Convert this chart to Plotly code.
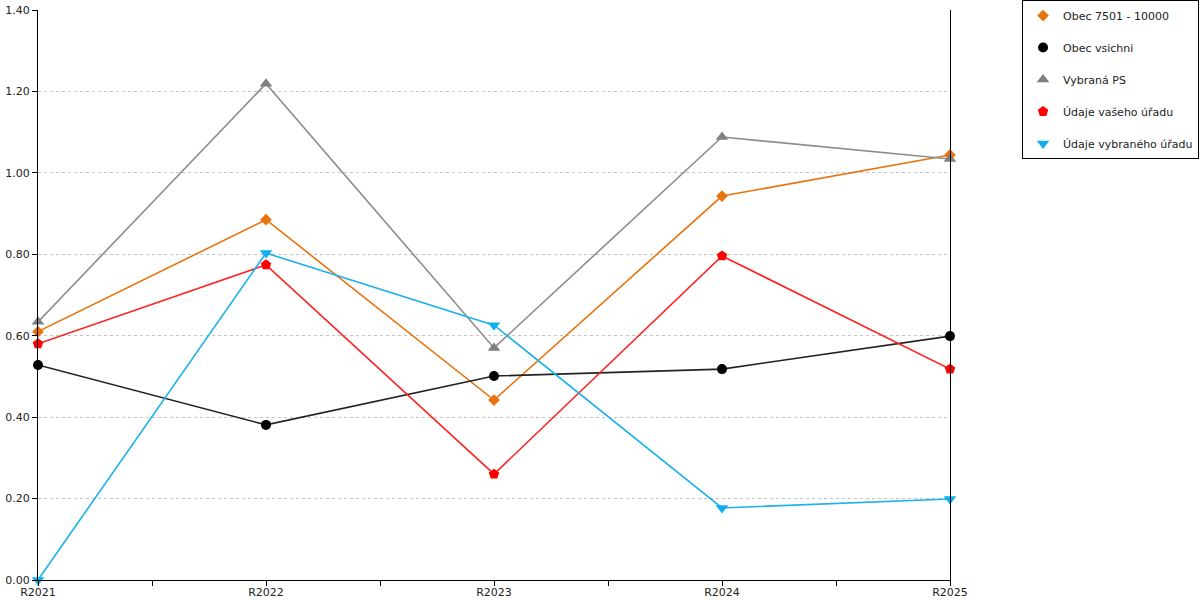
import plotly.graph_objects as go

# roky
categories = ["R2021", "R2022", "R2023", "R2024", "R2025"]

obec_7501_10000 = [0.61, 0.885, 0.442, 0.943, 1.044]
obec_vsichni = [0.528, 0.381, 0.501, 0.518, 0.599]
vybrana_ps = [0.634, 1.219, 0.570, 1.088, 1.034]
udaje_vaseho = [0.580, 0.774, 0.260, 0.796, 0.518]
udaje_vybraneho = [0.0, 0.803, 0.626, 0.177, 0.199]

series = [
    ("Obec 7501 - 10000", obec_7501_10000, "#E8720C", "#E8720C", "diamond", 9),
    ("Obec vsichni", obec_vsichni, "#222222", "#000000", "circle", 10),
    ("Vybraná PS", vybrana_ps, "#8C8C8C", "#808080", "triangle-up", 11),
    ("Údaje vašeho úřadu", udaje_vaseho, "#FF2020", "#FF0000", "pentagon", 11),
    ("Údaje vybraného úřadu", udaje_vybraneho, "#1AB2EA", "#10B0EE", "triangle-down", 11),
]

xs = list(range(len(categories)))

fig = go.Figure()
for name, vals, lcol, mcol, sym, size in series:
    fig.add_trace(go.Scatter(
        x=xs, y=vals, name=name, mode="lines+markers",
        line=dict(color=lcol, width=1.6),
        marker=dict(symbol=sym, size=size, color=mcol),
        legendgroup=name, showlegend=False, cliponaxis=False,
    ))
    # legenda jen se symbolem, bez cary
    fig.add_trace(go.Scatter(
        x=[None], y=[None], name=name, mode="markers",
        marker=dict(symbol=sym, size=size, color=mcol),
        legendgroup=name, showlegend=True,
    ))

fig.update_layout(
    width=1200, height=600,
    margin=dict(l=38, r=250, t=10, b=20, autoexpand=False),
    plot_bgcolor="white", paper_bgcolor="white",
    font=dict(family="DejaVu Sans", size=11, color="#222"),
    legend=dict(
        x=1.079, y=1.0175, xanchor="left", yanchor="top",
        bordercolor="#000", borderwidth=1, bgcolor="white",
        font=dict(size=11), tracegroupgap=13,
    ),
    showlegend=True,
)
fig.update_xaxes(
    range=[0, 4], tickvals=xs, ticktext=categories,
    showline=True, linecolor="#000", linewidth=1,
    ticks="outside", ticklen=2, tickcolor="#000",
    minor=dict(tick0=0, dtick=0.5, ticks="outside", ticklen=5, tickcolor="#000"),
    showgrid=False, zeroline=False, automargin=False,
)
fig.update_yaxes(
    range=[0, 1.4], dtick=0.2, tickformat=".2f",
    showline=True, linecolor="#000", linewidth=1, mirror=True,
    ticks="outside", ticklen=5, tickcolor="#000",
    showgrid=True, gridcolor="#C4C4C4", griddash="dot", gridwidth=1,
    zeroline=False, automargin=False,
)

# bez vychoziho okraje stranky (8px)
fig.write_html("out.html", config={"displayModeBar": False},
               post_script="document.body.style.margin='0px';")
